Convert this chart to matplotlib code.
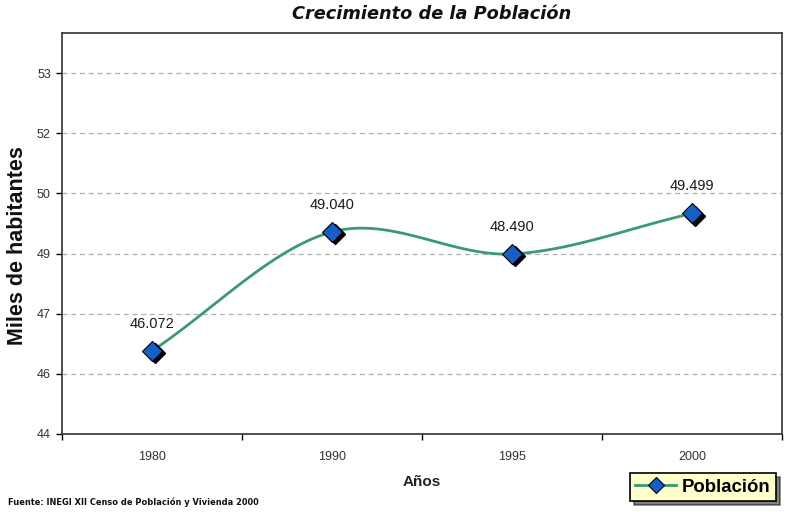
import numpy as np
import matplotlib
matplotlib.use("Agg")
import matplotlib.pyplot as plt
import matplotlib.transforms as mtransforms
from matplotlib.lines import Line2D

years = ["1980", "1990", "1995", "2000"]
poblacion = [46.072, 49.040, 48.490, 49.499]
labels = ["46.072", "49.040", "48.490", "49.499"]
yticks = [44, 45.5, 47, 48.5, 50, 51.5, 53]
ytick_labels = ["44", "46", "47", "49", "50", "52", "53"]

LINE = "#3a9a72"
BLUE = "#1560c8"
FONT = ["Liberation Sans", "DejaVu Sans"]
plt.rcParams["font.family"] = FONT

fig = plt.figure(figsize=(7.93, 5.12), dpi=100)
ax = fig.add_axes([62/793, 1-434/512, 720/793, 401/512])

x = np.arange(len(years), dtype=float)
y = np.array(poblacion)

# Catmull-Rom smoothing (like Excel smoothed line) through the data points
def catmull(xp, yp, n=40):
    px = np.concatenate([[2*xp[0]-xp[1]], xp, [2*xp[-1]-xp[-2]]])
    py = np.concatenate([[2*yp[0]-yp[1]], yp, [2*yp[-1]-yp[-2]]])
    xs, ys = [], []
    for i in range(1, len(px)-2):
        t = np.linspace(0, 1, n)
        for P, out in ((px, xs), (py, ys)):
            p0, p1, p2, p3 = P[i-1], P[i], P[i+1], P[i+2]
            out.extend(0.5*((2*p1) + (-p0+p2)*t + (2*p0-5*p1+4*p2-p3)*t**2 + (-p0+3*p1-3*p2+p3)*t**3))
    return np.array(xs), np.array(ys)

sx, sy = catmull(x, y)
ax.plot(sx, sy, color=LINE, lw=2, zorder=3)

shadow = mtransforms.offset_copy(ax.transData, fig=fig, x=2.5, y=-2.5, units="dots")
ax.plot(x, y, linestyle="none", marker="D", markersize=10.5, color="black", transform=shadow, zorder=4)
ax.plot(x, y, linestyle="none", marker="D", markersize=10.5, markerfacecolor=BLUE,
        markeredgecolor="black", markeredgewidth=0.8, zorder=5)

for xi, yi, lab in zip(x, y, labels):
    ax.annotate(lab, (xi, yi), xytext=(0, 27), textcoords="offset pixels",
                ha="center", va="center", fontsize=10.5, color="#1a1a1a")

ax.set_xlim(-0.5, len(years)-0.5)
ax.set_ylim(44, 54)
ax.set_yticks(yticks)
ax.set_yticklabels(ytick_labels)
ax.set_xticks(x)
ax.set_xticklabels(years)
ax.set_xticks(np.arange(-0.5, len(years)), minor=True)
ax.tick_params(axis="x", which="major", length=0, pad=12, labelsize=9, labelcolor="#333333")
ax.tick_params(axis="x", which="minor", length=4, width=1, direction="out")
ax.tick_params(axis="y", length=4, width=1, labelsize=9, labelcolor="#333333", pad=4)
ax.yaxis.grid(True, linestyle=(0, (4, 3)), color="#b0b0b0", lw=0.9)
for s in ax.spines.values():
    s.set_color("#333333")
    s.set_linewidth(1.2)

ax.set_xlabel("Años", fontsize=11, fontweight="bold", color="#222222", labelpad=9)
ax.set_ylabel("Miles de habitantes", fontsize=15.5, fontweight="bold", color="#111111", labelpad=6)
ax.yaxis.set_label_coords(-0.047, 0.47)
ax.set_title("Crecimiento de la Población", fontsize=12.8, fontweight="bold", style="italic",
             color="#111111", pad=10, family=["DejaVu Sans"], x=0.513)

fig.text(8/793, 1-502/512, "Fuente: INEGI XII Censo de Población y Vivienda 2000",
         fontsize=5.95, fontweight="bold", color="#111111", va="center", ha="left",
         family=["DejaVu Sans"])

h = Line2D([], [], color=LINE, lw=2, marker="D", markersize=8,
           markerfacecolor=BLUE, markeredgecolor="black", markeredgewidth=0.8)
leg = fig.legend([h], ["Población"], loc="center", bbox_to_anchor=(703/793, 1-487/512),
                 frameon=True, fancybox=False, shadow={"color": "black", "ox": 3, "oy": -3},
                 prop={"weight": "bold", "size": 13.4}, handlelength=2.2, handletextpad=0.3,
                 borderpad=0.3)
leg.get_frame().set_facecolor("#ffffcc")
leg.get_frame().set_edgecolor("black")
leg.get_frame().set_linewidth(1.2)
leg.get_frame().set_alpha(1)

fig.savefig("out.png", dpi=100)
